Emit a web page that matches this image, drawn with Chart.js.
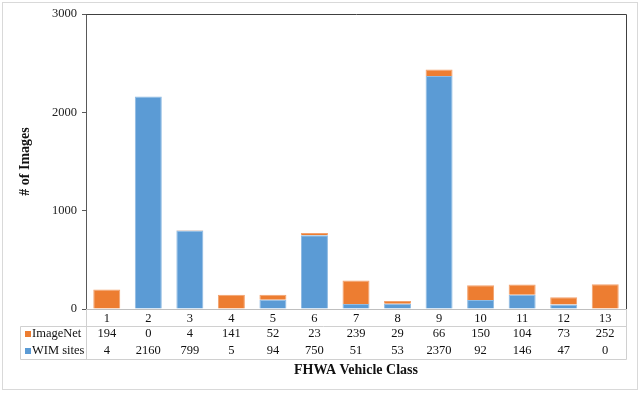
<!DOCTYPE html>
<html>
<head>
<meta charset="utf-8">
<script src="https://cdn.jsdelivr.net/npm/chart.js@4"></script>
<style>
  html, body { margin: 0; padding: 0; background: #fff; }
  #wrap { width: 640px; height: 393px; }
</style>
</head>
<body>
<div id="wrap"><canvas id="chart" width="640" height="393"></canvas></div>
<script>
const classes = ['1', '2', '3', '4', '5', '6', '7', '8', '9', '10', '11', '12', '13'];
const imageNet = [194, 0, 4, 141, 52, 23, 239, 29, 66, 150, 104, 73, 252];
const wimSites = [4, 2160, 799, 5, 94, 750, 51, 53, 2370, 92, 146, 47, 0];
const yTicks = [0, 1000, 2000, 3000];

const ORANGE = '#ED7D31';
const BLUE = '#5B9BD5';
const FONT = '"Liberation Serif", "Times New Roman", serif';

// table rows under the chart, drawn with the x scale positions
const tableRows = [
  { label: 'ImageNet', color: ORANGE, values: imageNet, y: 334 },
  { label: 'WIM sites', color: BLUE, values: wimSites, y: 351 }
];

const tablePlugin = {
  id: 'dataTable',
  beforeDraw(chart) {
    const ctx = chart.ctx;
    ctx.save();
    ctx.fillStyle = '#fff';
    ctx.fillRect(0, 0, chart.width, chart.height);
    ctx.strokeStyle = '#d9d9d9';
    ctx.lineWidth = 1;
    ctx.strokeRect(2.5, 2.5, 635, 387);
    ctx.restore();
  },
  afterDraw(chart) {
    const ctx = chart.ctx;
    const area = chart.chartArea;
    const x = chart.scales.x;
    const left = 20.5;
    const right = Math.round(area.right) + 0.5;
    const axisX = Math.round(area.left) + 0.5;
    ctx.save();

    // frame of plot area (top + right)
    ctx.strokeStyle = '#404040';
    ctx.beginPath();
    ctx.moveTo(axisX, Math.round(area.top) + 0.5);
    ctx.lineTo(right, Math.round(area.top) + 0.5);
    ctx.lineTo(right, Math.round(area.bottom));
    ctx.stroke();

    // table grid
    ctx.strokeStyle = '#d0d0d0';
    ctx.beginPath();
    ctx.moveTo(left, 326.5); ctx.lineTo(right, 326.5);
    ctx.moveTo(left, 359.5); ctx.lineTo(right, 359.5);
    ctx.moveTo(left, 326.5); ctx.lineTo(left, 359.5);
    ctx.moveTo(axisX, area.bottom); ctx.lineTo(axisX, 359.5);
    ctx.moveTo(right, area.bottom); ctx.lineTo(right, 359.5);
    ctx.stroke();

    ctx.font = '12.5px ' + FONT;
    ctx.textBaseline = 'middle';
    tableRows.forEach(row => {
      ctx.fillStyle = row.color;
      ctx.fillRect(25, row.y - 3, 6, 6);
      ctx.fillStyle = '#111';
      ctx.textAlign = 'left';
      ctx.fillText(row.label, 32, row.y);
      ctx.textAlign = 'center';
      row.values.forEach((v, i) => {
        ctx.fillText(String(v), x.getPixelForValue(i), row.y);
      });
    });
    ctx.restore();
  }
};

new Chart(document.getElementById('chart'), {
  type: 'bar',
  data: {
    labels: classes,
    datasets: [
      { label: 'WIM sites', data: wimSites, backgroundColor: BLUE, borderColor: '#8fbbe3', borderWidth: 1, stack: 's' },
      { label: 'ImageNet', data: imageNet, backgroundColor: ORANGE, borderColor: '#f2a26e', borderWidth: 1, stack: 's' }
    ]
  },
  options: {
    responsive: false,
    animation: false,
    events: [],
    layout: { padding: { top: 14, right: 14, left: 0, bottom: 0 } },
    datasets: { bar: { categoryPercentage: 1, barPercentage: 0.65 } },
    plugins: {
      legend: { display: false },
      tooltip: { enabled: false }
    },
    scales: {
      x: {
        stacked: true,
        afterFit: s => { s.height = 84; },
        grid: { display: false, drawTicks: false },
        border: { display: true, color: '#bfbfbf' },
        ticks: { color: '#111', font: { family: FONT, size: 12.5 }, padding: 2, maxRotation: 0 },
        title: {
          display: true,
          text: 'FHWA Vehicle Class',
          color: '#111',
          font: { family: FONT, size: 14, weight: 'bold' },
          padding: { top: 0, bottom: 14 }
        }
      },
      y: {
        stacked: true,
        min: 0,
        max: 3000,
        afterFit: s => { s.width = 86; },
        afterBuildTicks: s => { s.ticks = yTicks.map(v => ({ value: v })); },
        grid: { drawOnChartArea: false, drawTicks: true, tickLength: 4, color: '#595959' },
        border: { display: true, color: '#595959' },
        ticks: { color: '#222', font: { family: FONT, size: 12.5 }, padding: 5, callback: v => String(v) },
        title: {
          display: true,
          text: '# of Images',
          color: '#111',
          font: { family: FONT, size: 14, weight: 'bold' },
          padding: { top: 17, bottom: 0 }
        }
      }
    }
  },
  plugins: [tablePlugin]
});
</script>
</body>
</html>
